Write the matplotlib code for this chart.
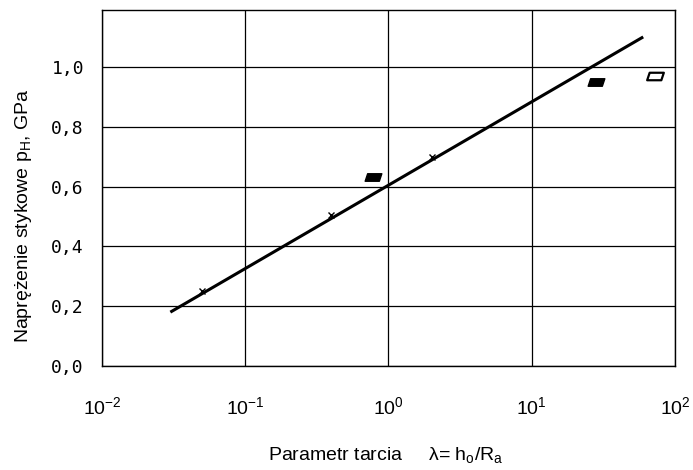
import numpy as np
import matplotlib
matplotlib.use("Agg")
import matplotlib.pyplot as plt
from matplotlib.path import Path

plt.rcParams["font.family"] = ["Liberation Sans", "DejaVu Sans"]
plt.rcParams["mathtext.default"] = "regular"

# fitted line (end points, semilog)
line_x = [0.03, 60.0]
line_y = [0.18, 1.10]

# small crosses on the line
cross_x = [0.05, 0.4, 2.0]
cross_y = [0.25, 0.505, 0.70]

# filled blobs
solid_x = [0.78, 28.0]
solid_y = [0.632, 0.951]

# hollow blob
hollow_x = [72.0]
hollow_y = [0.968]

y_ticks = [0.0, 0.2, 0.4, 0.6, 0.8, 1.0]
y_labels = ["0,0", "0,2", "0,4", "0,6", "0,8", "1,0"]
x_ticks = [1e-2, 1e-1, 1e0, 1e1, 1e2]
x_labels = [r"$10^{-2}$", r"$10^{-1}$", r"$10^{0}$", r"$10^{1}$", r"$10^{2}$"]

# skewed blob marker
blob = Path([(-1.0, -0.45), (0.7, -0.45), (1.0, 0.45), (-0.7, 0.45), (-1.0, -0.45)],
            [Path.MOVETO, Path.LINETO, Path.LINETO, Path.LINETO, Path.CLOSEPOLY])

fig = plt.figure(figsize=(6.93, 4.70), dpi=100)
ax = fig.add_axes([0.1472, 0.2213, 0.8268, 0.7574])

ax.set_xscale("log")
ax.set_xlim(1e-2, 1e2)
ax.set_ylim(0, 1.19)

ax.plot(line_x, line_y, color="black", lw=2.2, solid_capstyle="butt")
ax.plot(cross_x, cross_y, ls="none", marker="x", ms=4, mew=1.0, color="black")
ax.plot(solid_x, solid_y, ls="none", marker=blob, ms=12, color="black")
ax.plot(hollow_x, hollow_y, ls="none", marker=blob, ms=12, mfc="white",
        mec="black", mew=1.6)

ax.set_xticks(x_ticks)
ax.set_xticklabels(x_labels, fontsize=14)
ax.xaxis.set_minor_locator(matplotlib.ticker.NullLocator())
ax.set_yticks(y_ticks)
ax.set_yticklabels(y_labels, fontsize=13, family="DejaVu Sans Mono")
ax.tick_params(axis="x", length=0, pad=22)
ax.tick_params(axis="y", length=0, pad=13)

ax.grid(True, color="black", lw=0.9)
for s in ax.spines.values():
    s.set_color("black")
    s.set_linewidth(1.0)

fig.text(0.034, 0.54, r"Naprężenie stykowe p$_H$, GPa", fontsize=14,
         rotation=90, ha="center", va="center")
fig.text(0.557, 0.032, r"Parametr tarcia     λ= h$_o$/R$_a$", fontsize=14,
         ha="center", va="center")

fig.savefig("out.png", dpi=100)
